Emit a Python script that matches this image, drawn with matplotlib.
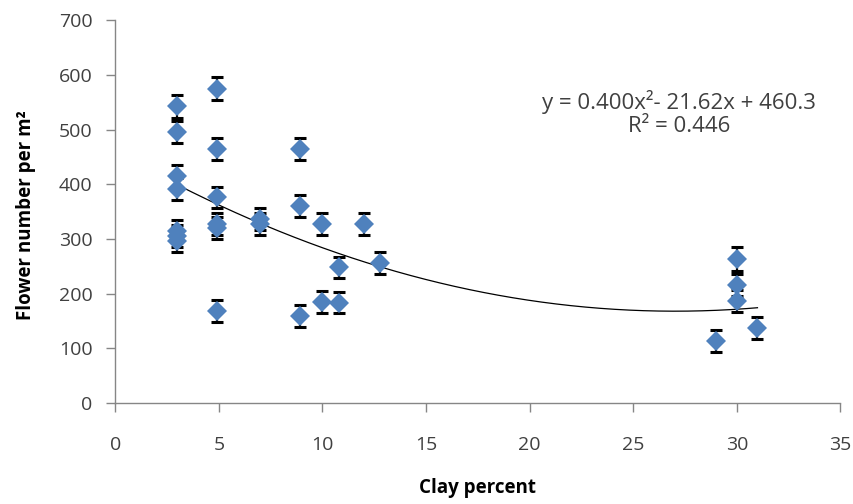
import numpy as np
import matplotlib.pyplot as plt

# clay percent vs flower number
clay = [3, 3, 3, 3, 3, 3, 3,
        4.9, 4.9, 4.9, 4.9, 4.9, 4.9,
        7, 7, 8.9, 8.9, 8.9,
        10, 10, 10.8, 10.8, 12, 12.8,
        29, 30, 30, 30, 31]
flowers = [543, 495, 415, 391, 315, 305, 297,
           575, 464, 376, 327, 320, 168,
           336, 327, 464, 360, 160,
           327, 185, 248, 184, 328, 256,
           113, 264, 216, 186, 137]
err = [21, 20, 20, 20, 20, 20, 20,
       21, 20, 20, 20, 20, 20,
       20, 20, 20, 20, 20,
       20, 20, 20, 20, 20, 20,
       20, 22, 20, 20, 20]

# trendline coefficients shown on the chart
trend_coef = [0.400, -21.62, 460.3]
trend_range = [3, 31]

x_ticks = [0, 5, 10, 15, 20, 25, 30, 35]
y_ticks = [0, 100, 200, 300, 400, 500, 600, 700]

plt.rcParams['font.family'] = ['Open Sans', 'DejaVu Sans']

fig = plt.figure(figsize=(8.54, 5.04), dpi=100)
ax = fig.add_axes([0.135, 0.200, 0.849, 0.760])

grey = '#868686'
txt = '#404040'

tx = np.linspace(trend_range[0], trend_range[1], 200)
ax.plot(tx, np.polyval(trend_coef, tx), color='black', lw=0.9, zorder=2)

ax.errorbar(clay, flowers, yerr=err, fmt='none', ecolor='black',
            elinewidth=1.6, capsize=4.2, capthick=2.2, zorder=3)
ax.plot(clay, flowers, 'D', color='#4F81BD', markersize=10,
        markeredgewidth=0, zorder=4)

ax.set_xlim(0, 35)
ax.set_ylim(0, 700)
ax.set_xticks(x_ticks)
ax.set_yticks(y_ticks)

for s in ['top', 'right']:
    ax.spines[s].set_visible(False)
for s in ['left', 'bottom']:
    ax.spines[s].set_color(grey)
    ax.spines[s].set_linewidth(1)
ax.tick_params(direction='out', length=6.5, width=1, color=grey,
               labelsize=14, labelcolor=txt)
ax.tick_params(axis='x', pad=17)
ax.tick_params(axis='y', pad=10)

ax.set_xlabel('Clay percent', fontsize=13.5, fontweight='bold', color='black')
ax.set_ylabel('Flower number per m²', fontsize=13.5, fontweight='bold',
              color='black')
ax.xaxis.set_label_coords(0.5, -0.195)
ax.yaxis.set_label_coords(-0.11, 0.49)

ax.text(27.2, 550, 'y = 0.400x²- 21.62x + 460.3', ha='center', va='center',
        fontsize=16, color=txt)
ax.text(27.2, 505, 'R² = 0.446', ha='center', va='center',
        fontsize=16, color=txt)

fig.savefig('out.png', dpi=100)
